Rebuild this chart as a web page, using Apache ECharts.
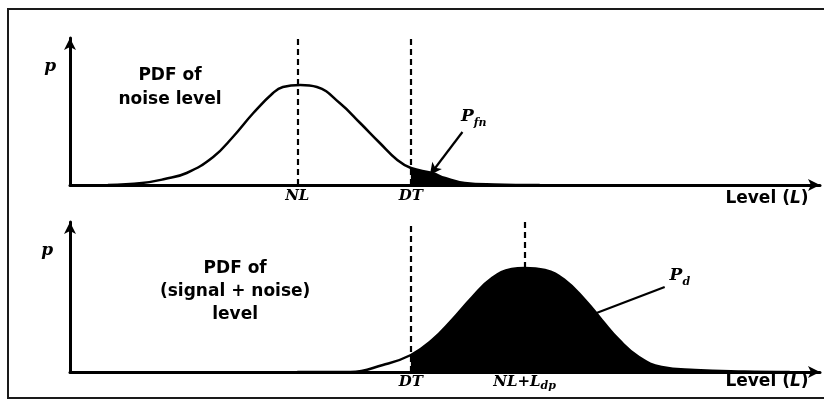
<!DOCTYPE html>
<html><head><meta charset="utf-8">
<script src="https://cdn.jsdelivr.net/npm/echarts/dist/echarts.min.js"></script>
<style>html,body{margin:0;padding:0;background:#fff}#c{width:824px;height:399px}</style>
</head><body><div id="c"></div>
<script>
// Level axis values (arbitrary level units) and PDF heights
const noiseLevel  = [5, 9.5, 12.5, 15.4, 18.9, 21.5, 24.2, 26.8, 28.1, 30.4, 32.6, 35.6, 38.3, 40.9, 43.2, 45, 47.8, 49.5, 52.1, 56, 62];
const noisePdf    = [0, 2, 6, 12, 28, 48, 72, 92, 98, 100, 98, 82, 62, 42, 25, 17, 12, 7, 2, 0.5, 0];
const signalLevel = [30, 37, 41.3, 45, 47.8, 50.4, 53.1, 55.7, 58.3, 60, 62.7, 65.3, 68, 70.2, 72.5, 75.1, 78.1, 82.5, 89, 95];
const signalPdf   = [0, 0, 7, 17, 32, 52, 75, 94, 103, 104, 102, 92, 72, 52, 32, 15, 5, 2, 0.5, 0];
const markerNames  = ['NL', 'DT', 'NL+Ldp'];
const markerLevels = [30, 45, 60];

const INK = '#000000';
const SERIF = 'DejaVu Serif';
const SANS = 'DejaVu Sans';
const pair = (xs, ys) => xs.map((x, i) => [x, ys[i]]);
const noiseData = pair(noiseLevel, noisePdf);
const signalData = pair(signalLevel, signalPdf);
const NL = markerLevels[0], DT = markerLevels[1], SIG = markerLevels[2];
const tail = d => d.filter(p => p[0] >= DT);
const sigPeak = Math.max(...signalPdf);

const axisBase = {
  type: 'value', min: 0, splitLine: {show: false}, axisTick: {show: false}, axisLabel: {show: false},
  axisLine: {show: true, onZero: false, symbol: ['none', 'arrow'], symbolSize: [9, 12], lineStyle: {color: INK, width: 3}}
};
const TOPMAX = 147, BOTMAX = 150;

const tok = (o) => Object.assign({color: INK, opacity: 1, textBorderWidth: 0, textShadowBlur: 0}, o);
const rich = {
  it: tok({fontFamily: SERIF, fontStyle: 'italic', fontWeight: 'bold', fontSize: 15, lineHeight: 17, verticalAlign: 'top'}),
  P:  tok({fontFamily: SERIF, fontStyle: 'italic', fontWeight: 'bold', fontSize: 17, lineHeight: 19, verticalAlign: 'top'}),
  sub: tok({fontFamily: SERIF, fontStyle: 'italic', fontWeight: 'bold', fontSize: 11, lineHeight: 11, padding: [9, 0, 0, 0], verticalAlign: 'top'}),
  sub2: tok({fontFamily: SERIF, fontStyle: 'italic', fontWeight: 'bold', fontSize: 11, lineHeight: 11, padding: [6, 0, 0, 0], verticalAlign: 'top'}),
  t:  tok({fontFamily: SANS, fontWeight: 'bold', fontSize: 17, lineHeight: 19, verticalAlign: 'top'}),
  tl: tok({fontFamily: SANS, fontStyle: 'italic', fontWeight: 'bold', fontSize: 17, lineHeight: 19, verticalAlign: 'top'}),
  pdf: tok({fontFamily: SANS, fontWeight: 'bold', fontSize: 17, lineHeight: 24}),
  pdf2: tok({fontFamily: SANS, fontWeight: 'bold', fontSize: 17, lineHeight: 23})
};

const lbl = (x, y, text) => ({value: [x, y], label: {formatter: text}});

const curveStyle = {type: 'line', symbol: 'none', smooth: 0.45, silent: true, animation: false};
const dashStyle = {type: [6, 4], width: 2.2, color: INK};
const labelBase = {show: true, position: [0, 0], align: 'center', verticalAlign: 'middle', color: INK, opacity: 1, textBorderWidth: 0, rich: rich};

const option = {
  animation: false,
  textStyle: {color: INK},
  grid: [{left: 70, right: 4, top: 185 - TOPMAX, height: TOPMAX}, {left: 70, right: 4, top: 372 - BOTMAX, height: BOTMAX}],
  xAxis: [{...axisBase, gridIndex: 0, max: 99}, {...axisBase, gridIndex: 1, max: 99}],
  yAxis: [{...axisBase, gridIndex: 0, max: TOPMAX}, {...axisBase, gridIndex: 1, max: BOTMAX}],
  graphic: [{type: 'rect', shape: {x: 8, y: 9, width: 830, height: 389}, style: {fill: 'none', stroke: '#1a1a1a', lineWidth: 2}, silent: true}],
  series: [
    {...curveStyle, name: 'noise', xAxisIndex: 0, yAxisIndex: 0, data: noiseData, z: 4,
     lineStyle: {color: INK, width: 2.5},
     markLine: {silent: true, symbol: 'none', label: {show: false}, lineStyle: dashStyle, animation: false,
       data: [[{coord: [NL, 0]}, {coord: [NL, TOPMAX]}], [{coord: [DT, 0]}, {coord: [DT, TOPMAX]}]]}},
    {...curveStyle, name: 'Pfn', xAxisIndex: 0, yAxisIndex: 0, data: tail(noiseData), z: 3,
     lineStyle: {width: 0}, areaStyle: {color: INK, opacity: 1},
     markLine: {silent: true, symbol: ['none', 'arrow'], symbolSize: [9, 12], label: {show: false}, animation: false,
       lineStyle: {type: 'solid', width: 2.2, color: INK},
       data: [[{coord: [51.8, 53]}, {coord: [47.5, 10]}]]}},
    {...curveStyle, name: 'signal', xAxisIndex: 1, yAxisIndex: 1, data: signalData, z: 4,
     lineStyle: {color: INK, width: 2.5},
     markLine: {silent: true, symbol: 'none', label: {show: false}, lineStyle: dashStyle, animation: false,
       data: [[{coord: [DT, 0]}, {coord: [DT, BOTMAX]}], [{coord: [SIG, sigPeak]}, {coord: [SIG, BOTMAX]}]]}},
    {...curveStyle, name: 'Pd', xAxisIndex: 1, yAxisIndex: 1, data: tail(signalData), z: 3,
     lineStyle: {width: 0}, areaStyle: {color: INK, opacity: 1},
     markLine: {silent: true, symbol: 'none', label: {show: false}, animation: false,
       lineStyle: {type: 'solid', width: 2.2, color: INK},
       data: [[{coord: [78.5, 85]}, {coord: [69.5, 59]}]]}},
    {type: 'scatter', xAxisIndex: 0, yAxisIndex: 0, symbolSize: 0, clip: false, silent: true, z: 10,
     itemStyle: {color: INK, opacity: 1}, label: labelBase,
     data: [
       lbl(-2.6, 117, '{P|p}'),
       lbl(13.2, 97, '{pdf|PDF of}\n{pdf|noise level}'),
       lbl(NL, -12, '{it|' + markerNames[0] + '}'),
       lbl(DT, -12, '{it|' + markerNames[1] + '}'),
       lbl(92, -15, '{t|Level (}{tl|L}{t|)}'),
       lbl(53.3, 67, '{P|P}{sub|fn}')
     ]},
    {type: 'scatter', xAxisIndex: 1, yAxisIndex: 1, symbolSize: 0, clip: false, silent: true, z: 10,
     itemStyle: {color: INK, opacity: 1}, label: labelBase,
     data: [
       lbl(-3, 120, '{P|p}'),
       lbl(21.8, 80, '{pdf2|PDF of}\n{pdf2|(signal + noise)}\n{pdf2|level}'),
       lbl(DT, -11, '{it|' + markerNames[1] + '}'),
       lbl(SIG, -11, '{it|NL+L}{sub2|dp}'),
       lbl(92, -11, '{t|Level (}{tl|L}{t|)}'),
       lbl(80.5, 95, '{P|P}{sub|d}')
     ]}
  ]
};
const chart = echarts.init(document.getElementById('c'), null, {renderer: 'canvas'});
chart.setOption(option);
</script></body></html>
